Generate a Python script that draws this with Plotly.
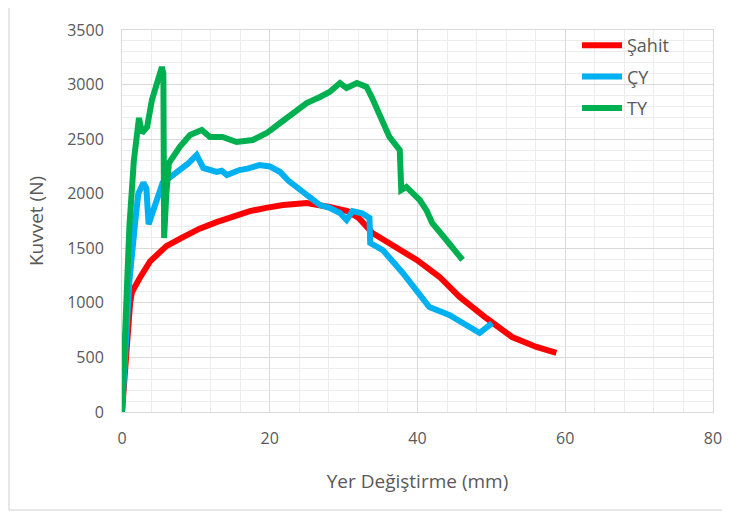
import plotly.graph_objects as go

# Şahit (red)
sahit_x = [0, 0.4, 0.8, 1.1, 1.35, 1.76, 2.4, 3.8, 6.0, 8.2, 10.5, 12.8, 15.0, 17.3, 19.5, 21.8, 25.0, 27.0, 28.1, 30.5, 32.0, 33.9, 37.2, 39.9, 43.0, 45.7, 49.3, 52.8, 56.1, 58.8]
sahit_y = [0, 400, 800, 1000, 1100, 1163, 1228, 1380, 1520, 1600, 1680, 1740, 1790, 1840, 1870, 1896, 1915, 1900, 1878, 1840, 1780, 1640, 1512, 1393, 1237, 1054, 861, 687, 596, 541]

# ÇY (blue)
cy_x = [0, 1.0, 1.8, 2.2, 2.9, 3.3, 3.6, 4.2, 5.0, 5.5, 6.5, 7.7, 8.2, 9.0, 10.1, 10.5, 11.0, 12.8, 13.5, 14.2, 15.9, 17.0, 18.6, 20.0, 21.4, 22.5, 24.1, 25.5, 26.8, 28.1, 29.5, 30.4, 31.2, 32.5, 33.5, 33.6, 35.3, 38.0, 41.6, 44.3, 47.0, 48.4, 50.1]
cy_y = [0, 1200, 1750, 2000, 2100, 2050, 1720, 1850, 2000, 2100, 2150, 2217, 2230, 2280, 2355, 2300, 2236, 2199, 2210, 2171, 2217, 2230, 2263, 2250, 2199, 2120, 2034, 1960, 1896, 1870, 1823, 1759, 1840, 1820, 1777, 1548, 1484, 1274, 962, 889, 779, 724, 815]

# TY (green)
ty_x = [0, 0.5, 1.0, 1.6, 2.0, 2.3, 2.7, 3.4, 4.05, 4.5, 5.4, 5.6, 5.7, 6.0, 6.35, 7.8, 9.2, 10.8, 11.9, 13.6, 15.5, 17.7, 19.6, 21.4, 23.1, 25.0, 26.8, 28.1, 29.5, 30.4, 31.8, 33.1, 33.8, 34.9, 36.2, 37.6, 37.8, 38.5, 40.3, 41.2, 42.0, 43.9, 45.7, 46.1]
ty_y = [0, 800, 1700, 2300, 2600, 2694, 2556, 2611, 2858, 2950, 3161, 3100, 1594, 2000, 2281, 2428, 2538, 2584, 2520, 2520, 2474, 2492, 2556, 2648, 2740, 2831, 2886, 2932, 3014, 2968, 3014, 2978, 2886, 2703, 2520, 2400, 2034, 2062, 1942, 1850, 1731, 1576, 1420, 1393]

x_ticks = [0, 20, 40, 60, 80]
y_ticks = [0, 500, 1000, 1500, 2000, 2500, 3000, 3500]

fig = go.Figure()
fig.add_trace(go.Scatter(x=sahit_x, y=sahit_y, mode="lines", name="Şahit", legendgroup="a",
                         line=dict(color="#FF0000", width=6)))
fig.add_trace(go.Scatter(x=cy_x, y=cy_y, mode="lines", name="ÇY", legendgroup="b",
                         line=dict(color="#00B0F0", width=6)))
fig.add_trace(go.Scatter(x=ty_x, y=ty_y, mode="lines", name="TY", legendgroup="c",
                         line=dict(color="#00B050", width=6)))

# page has an 8px body margin; size the figure so the page matches 730x518
OFF = 8
W, H = 730 - OFF, 518 - OFF
PL, PR, PT, PB = 122, 713, 30, 412  # plot area in page pixels
L, T = PL - OFF, PT - OFF
R = W - (PR - OFF)
B = H - (PB - OFF)
pw, ph = PR - PL, PB - PT

def px_x(p):
    return (p - PL) / pw

def px_y(p):
    return (PB - p) / ph

font_fam = "Open Sans, Noto Sans, sans-serif"
txt = "#595959"

fig.update_layout(
    width=W, height=H,
    margin=dict(l=L, r=R, t=T, b=B, autoexpand=False),
    paper_bgcolor="white", plot_bgcolor="white",
    font=dict(family=font_fam, color=txt, size=15),
    showlegend=True,
    legend=dict(x=px_x(577), y=px_y(27), xanchor="left", yanchor="top",
                bgcolor="rgba(255,255,255,0)", font=dict(size=18, color=txt),
                tracegroupgap=5, itemwidth=40),
    xaxis=dict(range=[0, 80], tickvals=x_ticks, showgrid=True, gridcolor="#d9d9d9", gridwidth=1,
               minor=dict(dtick=4, showgrid=True, gridcolor="#ececec", gridwidth=1),
               zeroline=False, showline=True, linecolor="#d9d9d9", mirror=True,
               ticks="", ticklabelstandoff=12,
               title=dict(text="Yer Değiştirme (mm)", standoff=26, font=dict(size=19, color=txt)),
               tickfont=dict(size=16, color=txt)),
    yaxis=dict(range=[0, 3500], tickvals=y_ticks, showgrid=True, gridcolor="#d9d9d9", gridwidth=1,
               minor=dict(dtick=100, showgrid=True, gridcolor="#ececec", gridwidth=1),
               zeroline=False, showline=True, linecolor="#d9d9d9", mirror=True,
               ticks="", ticklabelstandoff=14,
               title=dict(text="Kuvvet (N)", standoff=18, font=dict(size=19, color=txt)),
               tickfont=dict(size=16, color=txt)),
)

# outer chart border
fig.add_shape(type="rect", xref="paper", yref="paper",
              x0=px_x(9), x1=px_x(727), y0=px_y(510), y1=px_y(4),
              line=dict(color="#d0d0d0", width=1), fillcolor="rgba(0,0,0,0)", layer="below")

fig.write_html("out.html")
